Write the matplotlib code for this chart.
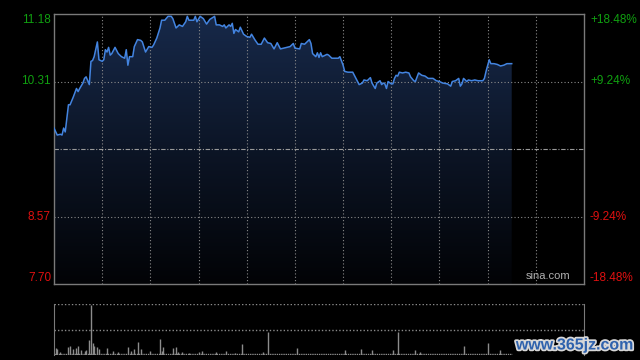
import numpy as np
import matplotlib
matplotlib.use('Agg')
import matplotlib.pyplot as plt
import matplotlib.patheffects as pe
from matplotlib.colors import LinearSegmentedColormap

# intraday minutes since open (HK session, lunch merged, 330 min total)
minutes = [0, 2, 4, 5, 6, 7, 9, 10, 12, 14, 15, 16, 18, 19, 20, 22, 23, 24, 25, 27,
           28, 30, 31, 32, 33, 34, 35, 36, 38, 40, 42, 44, 45, 46, 47, 49, 50, 52, 54, 55,
           57, 59, 61, 62, 64, 66, 67, 69, 71, 73, 74, 76, 78, 80, 82, 83, 84, 87, 88, 89,
           91, 93, 95, 97, 100, 101, 103, 105, 106, 107, 109, 110, 111, 112, 113, 115, 116, 118, 120, 122,
           123, 125, 127, 129, 131, 133, 135, 137, 139, 141, 143, 145, 147, 149, 150, 153, 154, 156, 159, 160,
           161, 163, 164, 165, 166, 167, 170, 171, 173, 177, 178, 180, 181, 183, 186, 188, 190, 192, 193, 195,
           197, 198, 200, 201, 203, 204, 205, 206, 207, 208, 210, 211, 212, 213, 214, 215, 217, 219, 221, 222,
           224, 225, 227, 229, 231, 233, 236, 238, 240, 242, 245, 247, 248, 250, 252, 253, 254, 255, 257, 258,
           260, 262, 264, 267, 268, 269, 271, 272, 274, 276, 278, 280, 282, 284, 285]
prices = [9.71, 9.62, 9.63, 9.62, 9.71, 9.66, 10.01, 10.01, 10.11, 10.22, 10.18, 10.22, 10.29, 10.35, 10.37, 10.27, 10.57, 10.58, 10.63, 10.82,
          10.59, 10.57, 10.59, 10.72, 10.69, 10.75, 10.65, 10.67, 10.75, 10.67, 10.63, 10.61, 10.72, 10.52, 10.63, 10.63, 10.76, 10.85, 10.84, 10.82,
          10.69, 10.76, 10.75, 10.78, 10.87, 11.00, 11.10, 11.10, 11.15, 11.15, 11.12, 11.00, 11.04, 11.02, 11.08, 11.15, 11.10, 11.10, 11.15, 11.08,
          11.15, 11.12, 11.05, 11.11, 11.15, 11.04, 11.04, 11.02, 11.04, 11.00, 11.04, 11.02, 11.06, 10.93, 10.98, 10.95, 11.01, 10.92, 10.89, 10.88,
          10.92, 10.85, 10.79, 10.79, 10.87, 10.81, 10.80, 10.73, 10.81, 10.73, 10.74, 10.75, 10.76, 10.80, 10.74, 10.73, 10.80, 10.79, 10.85, 10.80,
          10.67, 10.63, 10.68, 10.62, 10.68, 10.63, 10.66, 10.65, 10.61, 10.61, 10.63, 10.52, 10.44, 10.43, 10.43, 10.35, 10.27, 10.29, 10.33, 10.32,
          10.36, 10.29, 10.22, 10.29, 10.32, 10.27, 10.29, 10.28, 10.22, 10.31, 10.28, 10.28, 10.35, 10.39, 10.38, 10.43, 10.42, 10.43, 10.42, 10.37,
          10.32, 10.31, 10.42, 10.39, 10.38, 10.35, 10.35, 10.32, 10.31, 10.29, 10.28, 10.25, 10.31, 10.32, 10.35, 10.25, 10.28, 10.35, 10.31, 10.33,
          10.32, 10.33, 10.32, 10.32, 10.35, 10.44, 10.59, 10.54, 10.54, 10.53, 10.51, 10.52, 10.54, 10.54, 10.54]

# visible volume spikes (relative units, panel top = 100)
vol_minutes = [1, 2, 4, 9, 10, 12, 14, 15, 17, 19, 20, 22, 23, 24, 25, 27, 28, 33, 37, 40,
               46, 48, 50, 52, 54, 60, 66, 67, 68, 74, 76, 77, 80, 84, 90, 92, 101, 107, 113, 117,
               130, 133, 151, 181, 191, 198, 211, 214, 225, 228, 255, 270, 278]
vol_values = [13, 11, 6, 15, 18, 11, 13, 18, 10, 8, 10, 29, 99, 24, 18, 15, 12, 14, 8, 6,
              15, 8, 11, 25, 11, 8, 31, 7, 15, 14, 15, 6, 6, 3, 6, 8, 6, 7, 4, 22,
              6, 45, 14, 10, 12, 9, 10, 45, 10, 6, 18, 24, 10]

prev_close = 9.44
price_ticks = [7.70, 8.57, 9.44, 10.31, 11.18]
price_labels = ['7.70', '8.57', '', '10.31', '11.18']
pct_labels = ['-18.48%', '-9.24%', '', '+9.24%', '+18.48%']

GREEN = '#10a010'
RED = '#e01010'
GRID = '#8a8a8a'
SPINE = '#7a7a7a'
LINE = '#4384e0'
FONT = ['Liberation Sans', 'DejaVu Sans']

fig = plt.figure(figsize=(6.4, 3.6), dpi=100, facecolor='black')

# price panel
ax = fig.add_axes([54 / 640, 1 - 284 / 360, 530 / 640, 270 / 360])
ax.set_facecolor('black')
ax.set_xlim(0, 330)
ax.set_ylim(price_ticks[0], price_ticks[-1])

# gradient area under the line
cmap = LinearSegmentedColormap.from_list('area', ['#020306', '#0c1526', '#17294a'])
grad = np.linspace(0, 1, 256).reshape(-1, 1)
im = ax.imshow(grad, cmap=cmap, aspect='auto', origin='lower',
               extent=[0, 330, price_ticks[0], price_ticks[-1]], zorder=1)
area = ax.fill_between(minutes, prices, price_ticks[0], color='none', lw=0)
clip = area.get_paths()[0]
im.set_clip_path(clip, transform=ax.transData)

# grid
for m in range(30, 330, 30):
    ax.axvline(m, color=GRID, lw=0.8, ls=(0, (1, 2)), zorder=2)
for p in [8.57, 10.31]:
    ax.axhline(p, color=GRID, lw=0.8, ls=(0, (1, 2)), zorder=2)
ax.axhline(prev_close, color='#9a9a9a', lw=0.8, ls=(0, (4, 1.5, 1, 1.5)), zorder=2)

ax.plot(minutes, prices, color=LINE, lw=1.1, zorder=3)

for s in ax.spines.values():
    s.set_color(SPINE)
    s.set_linewidth(1.0)
ax.set_xticks([])
ax.set_yticks([])

# axis labels (placed as text, sina style)
for val, lab, pct in zip(price_ticks, price_labels, pct_labels):
    if not lab:
        continue
    col = GREEN if val > prev_close else RED
    off = 0
    if val == price_ticks[-1]:
        off = -6
    elif val == price_ticks[0]:
        off = 6
    y = ax.transData.transform((0, val))[1] + off
    yf = y / fig.bbox.height
    fig.text(51 / 640, yf, lab, color=col, fontsize=8.5, family=FONT, ha='right', va='center')
    fig.text(590 / 640, yf, pct, color=col, fontsize=8.5, family=FONT, ha='left', va='center')

ax.text(0.974, 0.012, 'sina.com', transform=ax.transAxes, color='#b0b0b0',
        fontsize=8, family=FONT, ha='right', va='bottom')

# volume panel
axv = fig.add_axes([54 / 640, 1 - 355 / 360, 530 / 640, 51 / 360])
axv.set_facecolor('black')
axv.set_xlim(0, 330)
axv.set_ylim(0, 100)
axv.vlines(vol_minutes, 0, vol_values, color='#8c8c8c', lw=1.0)
axv.axhline(100, color=GRID, lw=1.0, ls=(0, (1, 1.5)))
axv.axhline(50, color=GRID, lw=1.0, ls=(0, (1, 1.5)))
axv.axhline(1.5, xmax=285 / 330, color='#8c8c8c', lw=1.0, ls=(0, (1, 0.6)))
for side in ['left', 'right']:
    axv.spines[side].set_color(SPINE)
for side in ['top', 'bottom']:
    axv.spines[side].set_visible(False)
axv.set_xticks([])
axv.set_yticks([])

fig.text(575 / 640, 1 - 345 / 360, 'www.365jz.com', color='#2f62ad', fontsize=11.5,
         family=FONT, fontweight='bold', ha='center', va='center',
         path_effects=[pe.withStroke(linewidth=2.5, foreground='#d8d8d8')])

fig.savefig('out.png', dpi=100, facecolor='black')
